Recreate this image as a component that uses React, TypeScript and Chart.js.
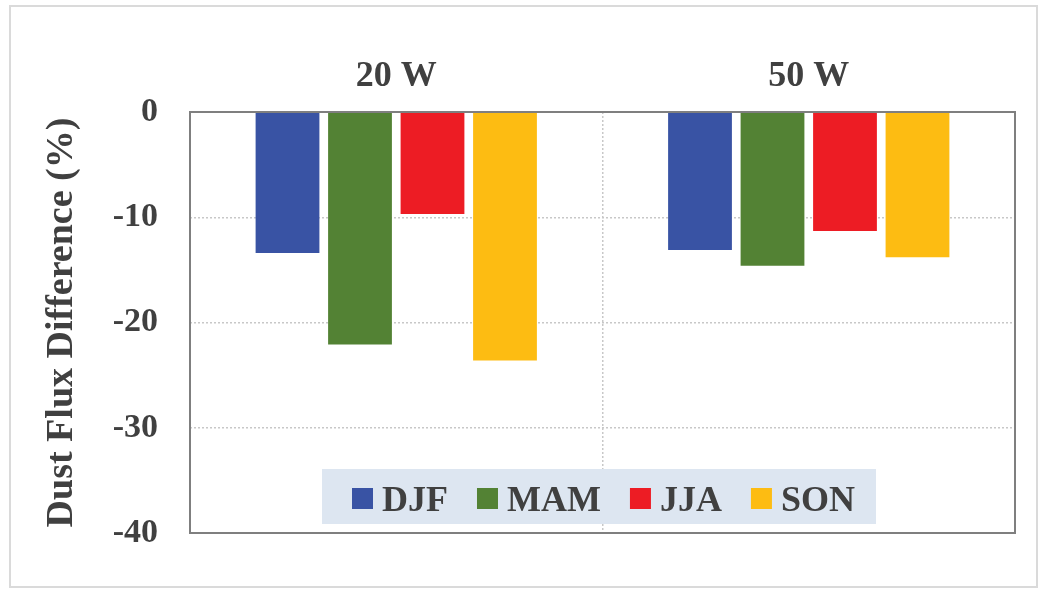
import { useEffect, useRef } from "react";
import { Chart, registerables } from "chart.js";

Chart.register(...registerables);

const categories = ["20 W", "50 W"];
const seasonLabels = ["DJF", "MAM", "JJA", "SON"];
const djfValues = [-13.4, -13.1];
const mamValues = [-22.1, -14.6];
const jjaValues = [-9.7, -11.3];
const sonValues = [-23.6, -13.8];
const seasonColors = ["#3953a4", "#538234", "#ed1c24", "#fdbc12"];
const yMin = -40;
const yMax = 0;
const yStep = 10;
const yTitle = "Dust Flux Difference (%)";

const FONT = "'Liberation Serif', 'Times New Roman', serif";
const TEXT = "#404040";

const framePlugin = {
  id: "frame",
  afterDatasetsDraw(chart: any) {
    const { ctx, chartArea } = chart;
    ctx.save();
    ctx.strokeStyle = "#7f7f7f";
    ctx.lineWidth = 2;
    ctx.strokeRect(chartArea.left, chartArea.top, chartArea.right - chartArea.left, chartArea.bottom - chartArea.top);
    ctx.restore();
  },
};

const legendPlugin = {
  id: "boxLegend",
  afterDatasetsDraw(chart: any) {
    const { ctx, chartArea } = chart;
    const left = chartArea.left + 132;
    const top = chartArea.bottom - 64;
    const w = 554;
    const h = 55;
    ctx.save();
    ctx.fillStyle = "#dde6f1";
    ctx.fillRect(left, top, w, h);
    ctx.font = `bold 36px ${FONT}`;
    ctx.textBaseline = "alphabetic";
    ctx.textAlign = "left";
    let x = left + 30;
    chart.data.datasets.forEach((ds: any) => {
      ctx.fillStyle = ds.backgroundColor;
      ctx.fillRect(x, top + 19, 21, 21);
      x += 30;
      ctx.fillStyle = TEXT;
      ctx.fillText(ds.label, x, top + 42);
      x += ctx.measureText(ds.label).width + 29;
    });
    ctx.restore();
  },
};

export default function App() {
  const ref = useRef<HTMLCanvasElement>(null);
  useEffect(() => {
    if (!ref.current) return;
    const series = [djfValues, mamValues, jjaValues, sonValues];
    const chart = new Chart(ref.current, {
      type: "bar",
      data: {
        labels: categories,
        datasets: seasonLabels.map((label, i) => ({
          label,
          data: series[i],
          backgroundColor: seasonColors[i],
          borderWidth: 0,
          categoryPercentage: 0.703,
          barPercentage: 0.88,
        })),
      },
      options: {
        animation: false,
        responsive: false,
        maintainAspectRatio: false,
        layout: { padding: { left: 0, top: 0, right: 35, bottom: 59 } },
        plugins: {
          legend: { display: false },
          tooltip: { enabled: false },
        },
        scales: {
          x: {
            position: "top",
            offset: true,
            grid: {
              display: true,
              offset: true,
              drawTicks: false,
              color: "#c8c8c8",
              lineWidth: 1.5,
            },
            border: { display: false, dash: [2, 2] },
            ticks: {
              padding: 14,
              color: TEXT,
              font: { family: FONT, size: 36, weight: "bold" },
            },
            afterFit(scale: any) {
              scale.height = 112;
            },
          },
          y: {
            min: yMin,
            max: yMax,
            ticks: {
              stepSize: yStep,
              padding: 32,
              color: TEXT,
              font: { family: FONT, size: 34, weight: "bold" },
            },
            grid: {
              drawTicks: false,
              color: "#c8c8c8",
              lineWidth: 1.5,
            },
            border: { display: false, dash: [2, 2] },
            title: {
              display: true,
              text: yTitle,
              color: TEXT,
              font: { family: FONT, size: 38, weight: "bold" },
              padding: { top: 39, bottom: 0 },
            },
            afterFit(scale: any) {
              scale.width = 190;
            },
          },
        },
      },
      plugins: [legendPlugin, framePlugin],
    } as any);
    return () => chart.destroy();
  }, []);

  return (
    <div style={{ position: "fixed", left: 0, top: 0, width: 1050, height: 592, background: "#fff" }}>
      <div
        style={{
          position: "absolute",
          left: 9,
          top: 5,
          width: 1029,
          height: 583,
          border: "2px solid #dadada",
          boxSizing: "border-box",
        }}
      />
      <canvas ref={ref} width={1050} height={592} style={{ position: "absolute", left: 0, top: 0 }} />
    </div>
  );
}
